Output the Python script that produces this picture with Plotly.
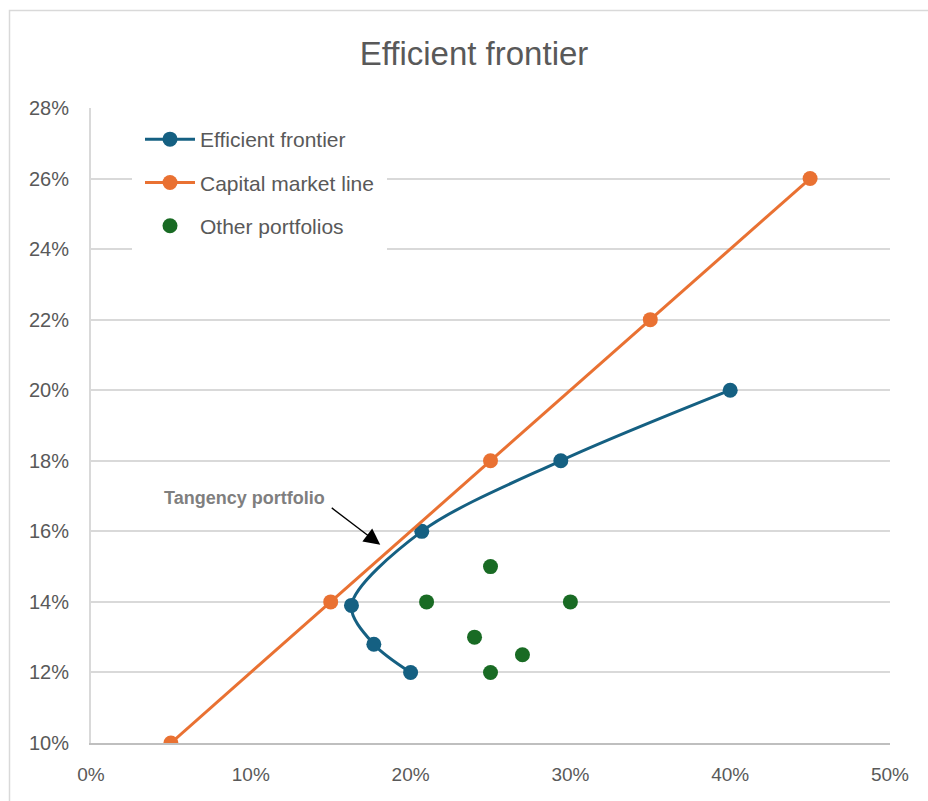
import plotly.graph_objects as go

# Efficient frontier (risk, return)
frontier_risk = [0.20, 0.177, 0.163, 0.207, 0.294, 0.40]
frontier_ret = [0.12, 0.128, 0.139, 0.16, 0.18, 0.20]

# Capital market line
cml_risk = [0.05, 0.15, 0.25, 0.35, 0.45]
cml_ret = [0.10, 0.14, 0.18, 0.22, 0.26]

# Other portfolios
other_risk = [0.25, 0.21, 0.30, 0.24, 0.27, 0.25]
other_ret = [0.15, 0.14, 0.14, 0.13, 0.125, 0.12]

BLUE = "#156082"
ORANGE = "#E97132"
GREEN = "#196B24"
TXT = "#595959"
FONT = "Liberation Sans"

fig = go.Figure()
fig.add_trace(go.Scatter(
    x=frontier_risk, y=frontier_ret, name="Efficient frontier",
    mode="lines+markers", legendgroup="a",
    line=dict(color=BLUE, width=3, shape="spline", smoothing=0.9),
    marker=dict(color=BLUE, size=15),
))
fig.add_trace(go.Scatter(
    x=cml_risk, y=cml_ret, name="Capital market line",
    mode="lines+markers", legendgroup="b",
    line=dict(color=ORANGE, width=3),
    marker=dict(color=ORANGE, size=15),
))
fig.add_trace(go.Scatter(
    x=other_risk, y=other_ret, name="Other portfolios",
    mode="markers", legendgroup="c",
    marker=dict(color=GREEN, size=15),
))

L, R, T, B = 91, 38, 108, 58
W, H = 928, 801
pw, ph = W - L - R, H - T - B

# thin chart-area border
fig.add_shape(type="rect", xref="paper", yref="paper",
              x0=(9.5 - L) / pw, x1=(W + 10 - L) / pw,
              y0=-(B + 10) / ph, y1=(H - B - 10.5) / ph,
              line=dict(color="#d9d9d9", width=1.5), layer="below")

# tangency label and arrow
fig.add_annotation(x=0.096, y=0.1695, text="<b>Tangency portfolio</b>",
                   showarrow=False, font=dict(family=FONT, size=18, color="#7f7f7f"))
fig.add_annotation(x=0.181, y=0.1562, ax=-50, ay=-38, text="",
                   showarrow=True, arrowhead=2, arrowsize=2.5, arrowwidth=1.3,
                   arrowcolor="black")

fig.update_layout(
    width=W, height=H,
    margin=dict(l=L, r=R, t=T, b=B),
    paper_bgcolor="white", plot_bgcolor="white",
    title=dict(text="Efficient frontier", x=474 / W, xanchor="center",
               y=1 - 53 / H, yanchor="middle",
               font=dict(family=FONT, size=33, color=TXT)),
    font=dict(family=FONT, color=TXT),
    legend=dict(x=(132 - L) / pw, y=(H - B - 111) / ph, xanchor="left", yanchor="top",
                bgcolor="white", bordercolor="white", borderwidth=8,
                font=dict(family=FONT, size=21, color=TXT),
                traceorder="grouped", tracegroupgap=13,
                itemwidth=50),
    xaxis=dict(range=[0, 0.5], dtick=0.1, tickformat=".0%",
               showgrid=False, zeroline=False,
               showline=True, linecolor="#bfbfbf", linewidth=2,
               tickfont=dict(family=FONT, size=19, color=TXT),
               ticks="", ticklabelstandoff=13),
    yaxis=dict(range=[0.10, 0.28], dtick=0.02, tickformat=".0%",
               showgrid=True, gridcolor="#d9d9d9", gridwidth=2, zeroline=False,
               showline=True, linecolor="#d9d9d9", linewidth=2,
               tickfont=dict(family=FONT, size=20, color=TXT),
               ticks="", ticklabelstandoff=16),
    showlegend=True,
)

fig.write_html("out.html")
